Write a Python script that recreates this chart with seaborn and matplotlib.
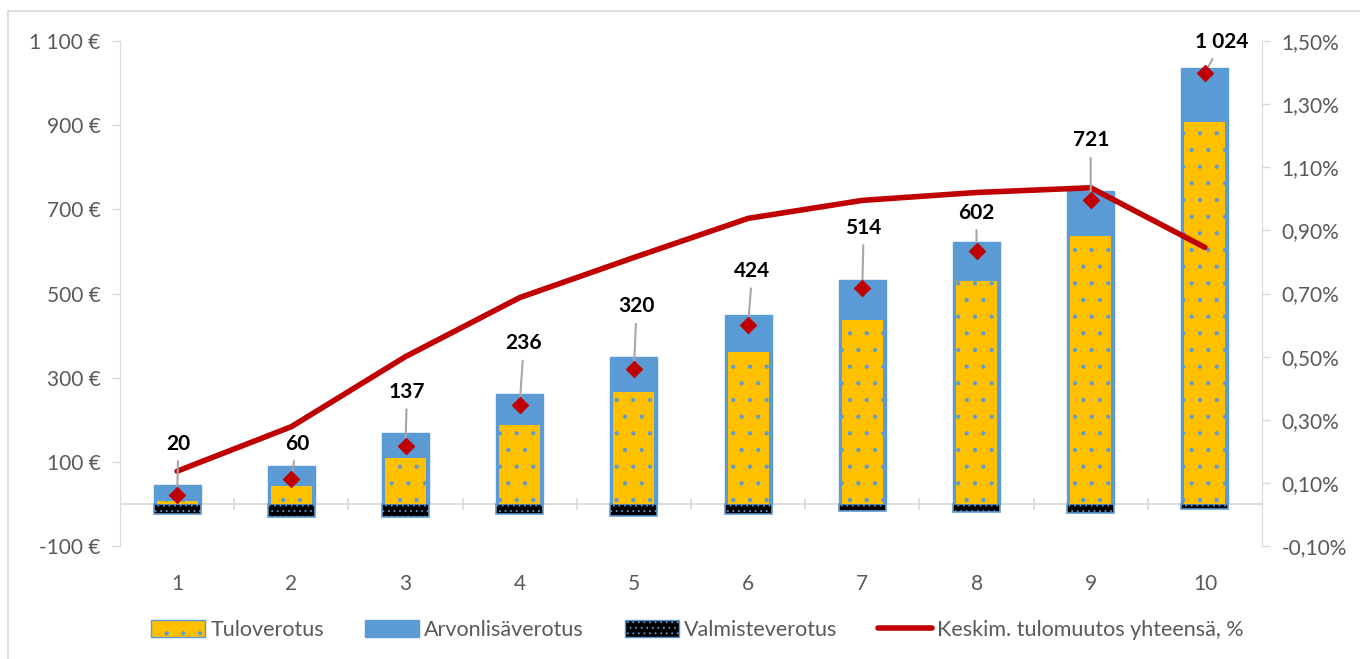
import numpy as np
import pandas as pd
import seaborn as sns
import matplotlib.pyplot as plt
from matplotlib.patches import Rectangle, Patch
from matplotlib.lines import Line2D
from matplotlib.ticker import FuncFormatter

# values
deciles = ['1', '2', '3', '4', '5', '6', '7', '8', '9', '10']
tulo = [7, 43, 109, 188, 267, 361, 437, 530, 636, 908]
arvo = [38, 47, 59, 73, 81, 88, 95, 92, 107, 128]
valm = [-25, -30, -31, -25, -28, -25, -18, -20, -22, -12]
net = [20, 60, 137, 236, 320, 424, 514, 602, 721, 1024]
pct = [0.137, 0.278, 0.50, 0.687, 0.814, 0.938, 0.995, 1.02, 1.035, 0.846]

# label offsets (points) for the net value labels
label_dx = [1, 4, 1, 3, 2, 3, 1, 0, 0, 12]
label_dy = [30, 18, 32, 37, 38, 32, 36, 20, 36, 15]

df = pd.DataFrame({'desiili': deciles, 'tulo': tulo, 'arvo': arvo,
                   'valm': valm, 'net': net, 'pct': pct})
df['top'] = df['tulo'] + df['arvo']
df['pos'] = np.arange(len(df))

sns.set_style('white')
plt.rcParams['font.family'] = ['Lato', 'DejaVu Sans']
plt.rcParams['hatch.color'] = '#5B9BD5'
plt.rcParams['hatch.linewidth'] = 0.6

YEL = '#FFC000'
BLU = '#5B9BD5'
RED = '#C00000'
GRY = '#595959'
AX = '#D9D9D9'

fig = plt.figure(figsize=(13.6, 6.59), dpi=100)
fig.patches.append(Rectangle((8 / 1360, -0.1), 1.2, 1 - 11 / 659 + 0.1,
                             transform=fig.transFigure, fill=False,
                             edgecolor='#D9D9D9', linewidth=1.2))
ax = fig.add_axes([120 / 1360, 1 - 546 / 659, 1142 / 1360, 505 / 659])

sns.barplot(data=df, x='desiili', y='top', color=BLU, width=0.41,
            edgecolor=BLU, linewidth=1, saturation=1, ax=ax, zorder=2)
sns.barplot(data=df, x='desiili', y='tulo', color=YEL, width=0.36,
            edgecolor=BLU, linewidth=0, saturation=1, ax=ax, zorder=3)
sns.barplot(data=df, x='desiili', y='valm', color='black', width=0.41,
            edgecolor=BLU, linewidth=1.2, saturation=1, ax=ax, zorder=2)

n = len(df)
for i, p in enumerate(ax.patches):
    if n <= i < 2 * n:
        p.set_hatch('.')
    elif i >= 2 * n:
        p.set_hatch('...')

ax.set_xlim(-0.5, n - 0.5)
ax.set_ylim(-100, 1100)
ax.set_yticks(np.arange(-100, 1101, 200))
ax.yaxis.set_major_formatter(FuncFormatter(
    lambda v, _: f'{int(v):,} €'.replace(',', ' ')))
ax.set_xlabel('')
ax.set_ylabel('')

for s in ['top', 'right', 'bottom']:
    ax.spines[s].set_visible(False)
ax.spines['left'].set_color(AX)
ax.tick_params(axis='y', colors=GRY, labelsize=15, length=6, width=1,
               color=AX, pad=8, direction='out')
ax.tick_params(axis='x', colors=GRY, labelsize=15, length=0, pad=20)
ax.axhline(0, color=AX, linewidth=1.3, zorder=1)
for b in np.arange(0.5, n - 1, 1):
    ax.plot([b, b], [-12, 12], color=AX, linewidth=1.3, zorder=1)

# right axis with line
ax2 = ax.twinx()
sns.lineplot(x=df['pos'], y=df['pct'], color=RED, linewidth=4, ax=ax2,
             zorder=4, solid_capstyle='round')
ax2.set_ylim(-0.10, 1.50)
ax2.set_yticks(np.arange(-0.10, 1.51, 0.20))
ax2.yaxis.set_major_formatter(FuncFormatter(
    lambda v, _: f'{v:.2f}%'.replace('.', ',')))
ax2.set_ylabel('')
ax2.set_xlabel('')
for s in ['top', 'left', 'bottom']:
    ax2.spines[s].set_visible(False)
ax2.spines['right'].set_color(AX)
ax2.tick_params(axis='y', colors=GRY, labelsize=15, length=6, width=1,
                color=AX, pad=8)

# diamonds and value labels on top
ax3 = ax.twinx()
ax3.set_ylim(ax.get_ylim())
ax3.axis('off')
sns.scatterplot(x=df['pos'], y=df['net'], marker='D', s=70, color=RED,
                edgecolor=RED, ax=ax3, zorder=6, legend=False)
ax3.set_xlim(-0.5, n - 0.5)
for i in range(n):
    ax3.annotate(f'{net[i]:,}'.replace(',', ' '), xy=(i, net[i]),
                 xytext=(label_dx[i], label_dy[i]), textcoords='offset points',
                 ha='center', va='bottom', fontsize=15, fontweight='bold',
                 color='black',
                 arrowprops=dict(arrowstyle='-', color='#A6A6A6', lw=1.5,
                                 shrinkA=3, shrinkB=0))

handles = [Patch(facecolor=YEL, edgecolor=BLU, hatch='.', linewidth=1),
           Patch(facecolor=BLU, edgecolor=BLU),
           Patch(facecolor='black', edgecolor=BLU, hatch='...', linewidth=1),
           Line2D([0], [0], color=RED, linewidth=4)]
labels = ['Tuloverotus', 'Arvonlisäverotus', 'Valmisteverotus',
          'Keskim. tulomuutos yhteensä, %']
leg = fig.legend(handles, labels, loc='center', bbox_to_anchor=(0.513, 1 - 630 / 659),
                 ncol=4, frameon=False, fontsize=15.5, handlelength=2.5,
                 handleheight=0.8, columnspacing=1.9, handletextpad=0.25)
for t in leg.get_texts():
    t.set_color(GRY)

fig.savefig('out.png', dpi=100)
